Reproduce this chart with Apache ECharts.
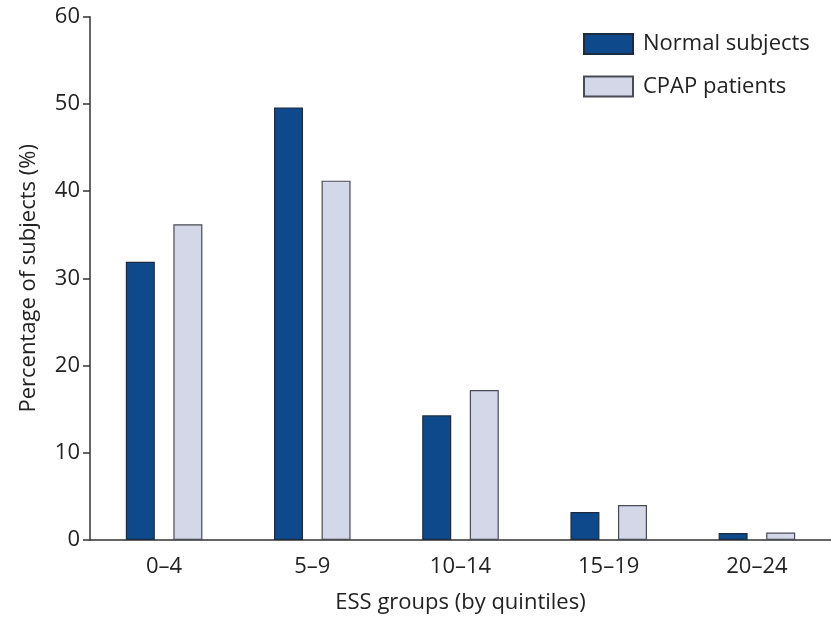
<!DOCTYPE html>
<html><head><meta charset="utf-8">
<script src="https://cdn.jsdelivr.net/npm/echarts@6/dist/echarts.min.js"></script>
<style>html,body{margin:0;padding:0;background:#fff}#c{width:831px;height:619px}</style>
</head><body><div id="c"></div>
<script>
const categories = ['0–4', '5–9', '10–14', '15–19', '20–24'];
const normalSubjects = [31.9, 49.6, 14.3, 3.2, 0.8];
const cpapPatients = [36.2, 41.2, 17.2, 4.0, 0.85];
const yTicks = [0, 10, 20, 30, 40, 50, 60];

const font = 'Open Sans';
const chart = echarts.init(document.getElementById('c'), null, {renderer: 'canvas'});
chart.setOption({
  animation: false,
  backgroundColor: '#fff',
  textStyle: {fontFamily: font, color: '#222'},
  legend: {
    orient: 'vertical', left: 583, top: 33, padding: 0, icon: 'rect',
    itemWidth: 49, itemHeight: 20, itemGap: 20.6,
    textStyle: {fontFamily: font, fontSize: 22, color: '#222', padding: [0, 0, 0, 5]},
    data: ['Normal subjects', 'CPAP patients']
  },
  grid: {left: 90, top: 16.7, width: 746, height: 523.8, containLabel: false},
  xAxis: {
    type: 'category', data: categories,
    axisLine: {lineStyle: {color: '#333', width: 1.5}},
    axisTick: {alignWithLabel: true, length: 7, lineStyle: {color: '#333', width: 1.5}},
    axisLabel: {fontFamily: font, fontSize: 22, color: '#222', margin: 16},
    name: 'ESS groups (by quintiles)', nameLocation: 'middle', nameGap: 52,
    nameTextStyle: {fontFamily: font, fontSize: 22, color: '#222'}
  },
  yAxis: {
    type: 'value', min: 0, max: 60, interval: 10,
    axisLine: {show: true, lineStyle: {color: '#333', width: 1.5}},
    axisTick: {show: true, length: 7, lineStyle: {color: '#333', width: 1.5}},
    splitLine: {show: false},
    axisLabel: {fontFamily: font, fontSize: 22, color: '#222', margin: 10,
      formatter: v => yTicks.includes(v) ? String(v) : ''},
    name: 'Percentage of subjects (%)', nameLocation: 'middle', nameGap: 50,
    nameTextStyle: {fontFamily: font, fontSize: 22, color: '#222'}
  },
  series: [
    {name: 'Normal subjects', type: 'bar', data: normalSubjects, barWidth: 29, barGap: '64%',
     itemStyle: {color: '#0e4a8b', borderColor: '#1c2b3f', borderWidth: 1.2}},
    {name: 'CPAP patients', type: 'bar', data: cpapPatients, barWidth: 29,
     itemStyle: {color: '#d3d7e7', borderColor: '#4a4a55', borderWidth: 1.2}}
  ]
});
</script></body></html>
